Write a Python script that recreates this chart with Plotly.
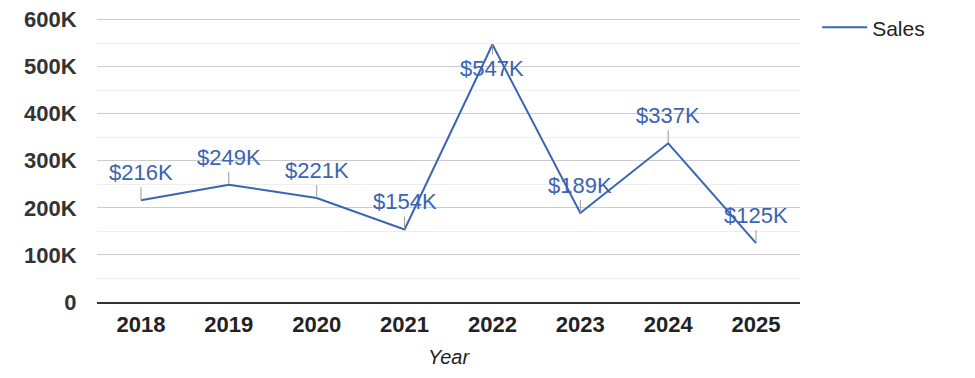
import plotly.graph_objects as go

years = ["2018", "2019", "2020", "2021", "2022", "2023", "2024", "2025"]
sales = [216000, 249000, 221000, 154000, 547000, 189000, 337000, 125000]
y_tick_vals = [0, 100000, 200000, 300000, 400000, 500000, 600000]
y_tick_text = ["0", "100K", "200K", "300K", "400K", "500K", "600K"]
series_name = "Sales"
x_title = "Year"

BLUE = "#3a64b4"
FONT = "Arial, Liberation Sans, sans-serif"
PAGE_OFFSET = 8  # default body margin of the html page
TOP = 10
PLOT_H = (378 - PAGE_OFFSET) - TOP - 76

fig = go.Figure()
fig.add_trace(go.Scatter(
    x=years, y=sales, mode="lines", name=series_name,
    line=dict(color=BLUE, width=2),
))

ymax = max(y_tick_vals)
for i, v in enumerate(sales):
    below = v > 0.85 * ymax
    fig.add_annotation(
        x=i, y=v, xref="x", yref="y",
        text="&#36;" + f"{v/1000:.0f}K",
        showarrow=True, arrowhead=0, arrowwidth=1, arrowcolor="#999999",
        ax=0, ay=(10 if below else -13), standoff=0,
        xanchor="center", yanchor=("top" if below else "bottom"),
        font=dict(family=FONT, size=22, color=BLUE),
    )

fig.update_layout(
    width=975 - PAGE_OFFSET, height=378 - PAGE_OFFSET,
    margin=dict(l=97 - PAGE_OFFSET, r=175, t=TOP, b=76, autoexpand=False),
    paper_bgcolor="white", plot_bgcolor="white",
    font=dict(family=FONT, size=21, color="#333333"),
    showlegend=True,
    legend=dict(x=1.0244, y=1.038, xanchor="left", yanchor="top", itemwidth=45,
                font=dict(family=FONT, size=21, color="#222222"),
                bgcolor="rgba(0,0,0,0)"),
)
fig.update_xaxes(
    type="category", range=[-0.5, len(years) - 0.5], automargin=False,
    showgrid=False, showline=True, linecolor="#333333", linewidth=1.5,
    ticks="outside", ticklen=2, tickcolor="rgba(0,0,0,0)",
    tickfont=dict(family=FONT, size=22, color="#222222", weight="bold"),
    title=dict(text=x_title, font=dict(family=FONT, size=20, color="#222222", style="italic"), standoff=14),
)
fig.update_yaxes(
    range=[0, ymax / (1 - 1.5 / PLOT_H)], tickvals=y_tick_vals, ticktext=y_tick_text,
    automargin=False, ticklabeloverflow="allow",
    showgrid=True, gridcolor="#cccccc", gridwidth=1,
    zeroline=False, showline=False,
    ticks="outside", ticklen=15, tickcolor="rgba(0,0,0,0)",
    tickfont=dict(family=FONT, size=22, color="#333333", weight="bold"),
    minor=dict(dtick=50000, showgrid=True, gridcolor="#eeeeee", gridwidth=1, tick0=0),
)

fig.write_html("out.html")
